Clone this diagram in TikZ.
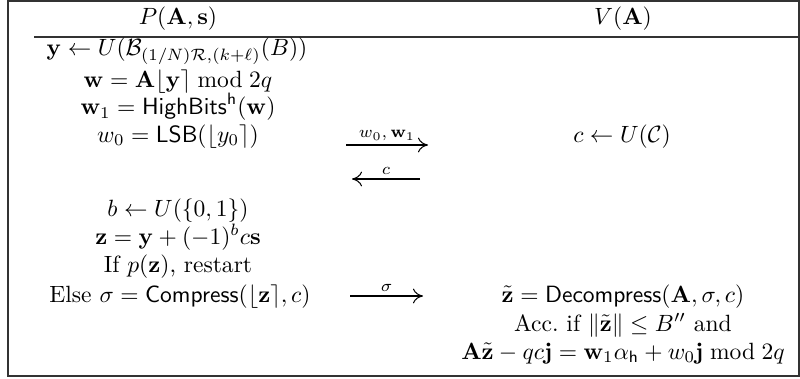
\documentclass[tikz,border=0pt]{standalone}
\usepackage{amsmath,amssymb}
\usetikzlibrary{arrows.meta,positioning,calc}
\tikzset{
  cell/.style={inner sep=0pt, anchor=base, font=\normalsize},
  rule/.style={draw=black!80, line width=0.5pt},
  msg/.style={-{To[length=1.5mm,width=2.2mm]}, line width=0.45pt},
  msglabel/.style={above, inner sep=1.5pt, font=\scriptsize}
}
\newcommand{\alg}[1]{\mathsf{#1}}
\newcommand{\rnd}[1]{\lfloor #1 \rceil}

\begin{document}
\begin{tikzpicture}[x=0.425pt, y=-0.425pt]
\useasboundingbox (0,0) rectangle (800,378);
% frame and header rule
\draw[rule] (8,1) rectangle (799,376);
\draw[rule] (34,37) -- (800,37);
% headers
\node[cell] (hp) at (178,25) {$P(\mathbf{A},\mathbf{s})$};
\node[cell] (hv) at (623,25) {$V(\mathbf{A})$};
% prover
\node[cell] (p1) at (177,56) {$\mathbf{y} \leftarrow U(\mathcal{B}_{(1/N)\mathcal{R},(k+\ell)}(B))$};
\node[cell] (p2) at (178,88) {$\mathbf{w} = \mathbf{A}\rnd{\mathbf{y}} \bmod 2q$};
\node[cell] (p3) at (178,115) {$\mathbf{w}_1 = \alg{HighBits}^{\alg{h}}(\mathbf{w})$};
\node[cell] (p4) at (178,142) {$w_0 = \alg{LSB}(\rnd{y_0})$};
\node[cell] (p5) at (178,216) {$b \leftarrow U(\{0,1\})$};
\node[cell] (p6) at (178,244) {$\mathbf{z} = \mathbf{y} + (-1)^b c\mathbf{s}$};
\node[cell] (p7) at (178,272) {If $p(\mathbf{z})$, restart};
\node[cell] (p8) at (180,302) {Else $\sigma = \alg{Compress}(\rnd{\mathbf{z}}, c)$};
% verifier
\node[cell] (v1) at (622,142) {$c \leftarrow U(\mathcal{C})$};
\node[cell] (v2) at (623,302) {$\tilde{\mathbf{z}} = \alg{Decompress}(\mathbf{A},\sigma,c)$};
\node[cell] (v3) at (623,331) {Acc.\ if $\|\tilde{\mathbf{z}}\| \le B''$ and};
\node[cell] (v4) at (623,359) {$\mathbf{A}\tilde{\mathbf{z}} - qc\mathbf{j} = \mathbf{w}_1\alpha_{\alg{h}} + w_0\mathbf{j} \bmod 2q$};
% messages
\coordinate (m1a) at (346,145);
\coordinate (m1b) at (428,145);
\coordinate (m2a) at (352,179);
\coordinate (m2b) at (420,179);
\coordinate (m3a) at (350,296);
\coordinate (m3b) at (423,296);
\draw[msg] (m1a) -- node[msglabel] {$w_0,\mathbf{w}_1$} (m1b);
\draw[msg] (m2b) -- node[msglabel] {$c$} (m2a);
\draw[msg] (m3a) -- node[msglabel] {$\sigma$} (m3b);
\end{tikzpicture}
\end{document}
